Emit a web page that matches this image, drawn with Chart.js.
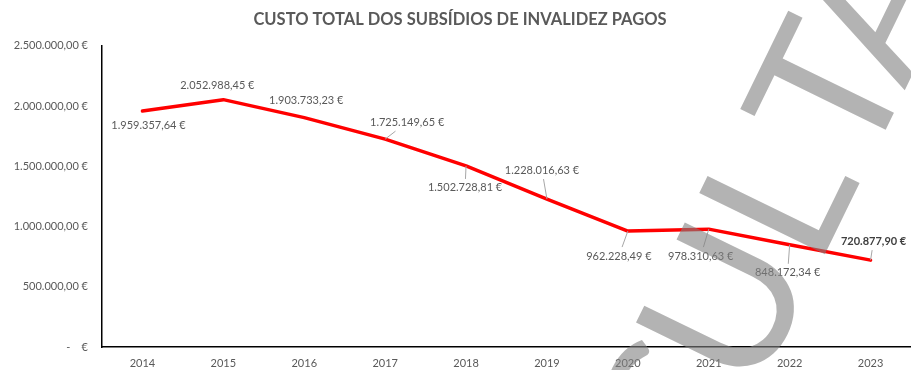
<!DOCTYPE html>
<html>
<head>
<meta charset="utf-8">
<script src="https://cdn.jsdelivr.net/npm/chart.js@4.4.1/dist/chart.umd.min.js"></script>
<style>
    html, body { margin: 0; padding: 0; background: #fff; }
    #wrap { width: 911px; height: 370px; }
</style>
</head>
<body>
<div id="wrap"><canvas id="chart_subsidios" width="911" height="370"></canvas></div>
<script>
const anos = ['2014', '2015', '2016', '2017', '2018', '2019', '2020', '2021', '2022', '2023'];
const custoTotal = [1959357.64, 2052988.45, 1903733.23, 1725149.65, 1502728.81,
                    1228016.63, 962228.49, 978310.63, 848172.34, 720877.90];
const escalaY = [0, 500000, 1000000, 1500000, 2000000, 2500000];

const TITULO = 'CUSTO TOTAL DOS SUBSÍDIOS DE INVALIDEZ PAGOS';
const MARCA = 'CONSULTA';

const COR_TEXTO = '#595959';
const COR_LINHA = '#ff0000';
const FONTE = 'Lato, "Open Sans", sans-serif';

// where each value label sits relative to its point, and which ones get a leader line
const rotuloDesvio = [[6, 15], [-6, -14], [2, -17], [22, -17], [-1, 22],
                      [-5, -29], [-9, 25], [-8, 27], [-2, 28], [3, -19]];
const rotuloLinha = [false, false, false, true, true, true, true, true, true, true];
const rotuloNegrito = 9;

// watermark: baseline anchor, angle and the centre of each letter along the baseline
const marcaOrigem = [823, 258];
const marcaAngulo = -64;
const marcaCentros = [-584, -448, -312, -195, -84, 44, 152, 252];

function euro(v) {
    if (v === 0) {
        return '-    €';
    }
    const partes = v.toFixed(2).split('.');
    return partes[0].replace(/\B(?=(\d{3})+(?!\d))/g, '.') + ',' + partes[1] + ' €';
}

// value labels with leader lines
const rotulosPlugin = {
    id: 'rotulos',
    afterDatasetsDraw(chart) {
        const ctx = chart.ctx;
        const meta = chart.getDatasetMeta(0);
        ctx.save();
        ctx.textAlign = 'center';
        ctx.textBaseline = 'middle';
        meta.data.forEach((pt, i) => {
            const txt = euro(custoTotal[i]);
            const bold = i === rotuloNegrito;
            ctx.font = (bold ? 'bold ' : '') + '11px ' + FONTE;
            const w = ctx.measureText(txt).width;
            const cx = pt.x + rotuloDesvio[i][0];
            const cy = pt.y + rotuloDesvio[i][1];

            if (rotuloLinha[i]) {
                const dx = cx - pt.x;
                const dy = cy - pt.y;
                const hw = w / 2 + 3;
                const hh = 9;
                const s = Math.min(dx !== 0 ? hw / Math.abs(dx) : Infinity,
                                   dy !== 0 ? hh / Math.abs(dy) : Infinity);
                if (s < 1) {
                    ctx.beginPath();
                    ctx.moveTo(pt.x, pt.y);
                    ctx.lineTo(cx - s * dx, cy - s * dy);
                    ctx.strokeStyle = '#a6a6a6';
                    ctx.lineWidth = 1;
                    ctx.stroke();
                }
            }

            ctx.fillStyle = bold ? '#404040' : COR_TEXTO;
            ctx.fillText(txt, cx, cy);
        });
        ctx.restore();
    }
};

// big grey diagonal word over the whole chart
const marcaPlugin = {
    id: 'marca',
    afterDraw(chart) {
        const ctx = chart.ctx;
        ctx.save();
        ctx.translate(marcaOrigem[0], marcaOrigem[1]);
        ctx.rotate(marcaAngulo * Math.PI / 180);
        ctx.font = '400 195px ' + FONTE;
        ctx.textAlign = 'left';
        ctx.textBaseline = 'alphabetic';
        ctx.fillStyle = 'rgba(128, 128, 128, 0.6)';
        MARCA.split('').forEach((letra, i) => {
            const m = ctx.measureText(letra);
            const meio = (m.actualBoundingBoxRight - m.actualBoundingBoxLeft) / 2;
            ctx.fillText(letra, marcaCentros[i] - meio, 0);
        });
        ctx.restore();
    }
};

const ctx = document.getElementById('chart_subsidios');
new Chart(ctx, {
    type: 'line',
    data: {
        labels: anos,
        datasets: [{
            data: custoTotal,
            borderColor: COR_LINHA,
            borderWidth: 3.5,
            borderJoinStyle: 'round',
            borderCapStyle: 'round',
            pointRadius: 0,
            tension: 0,
            fill: false
        }]
    },
    options: {
        responsive: false,
        animation: false,
        layout: { padding: { left: 9, right: 0, top: 0, bottom: 0 } },
        plugins: {
            legend: { display: false },
            tooltip: { enabled: false },
            title: {
                display: true,
                text: TITULO,
                color: COR_TEXTO,
                font: { family: FONTE, size: 16.5, weight: 'bold', lineHeight: 1.2 },
                padding: { top: 10, bottom: 16 }
            }
        },
        scales: {
            x: {
                offset: true,
                grid: { display: false, drawTicks: false },
                border: { display: true, color: '#000', width: 1.5 },
                ticks: {
                    color: COR_TEXTO,
                    font: { family: FONTE, size: 11 },
                    padding: 10,
                    maxRotation: 0
                },
                afterFit(scale) {
                    scale.height = 23;
                }
            },
            y: {
                min: 0,
                max: 2500000,
                grid: { display: false, drawTicks: false },
                border: { display: true, color: '#000', width: 1.5 },
                ticks: {
                    color: COR_TEXTO,
                    font: { family: FONTE, size: 11 },
                    padding: 14,
                    callback: v => euro(v)
                },
                afterBuildTicks(scale) {
                    scale.ticks = escalaY.map(v => ({ value: v }));
                },
                afterFit(scale) {
                    scale.width = 93;
                }
            }
        }
    },
    plugins: [rotulosPlugin, marcaPlugin]
});
</script>
</body>
</html>
